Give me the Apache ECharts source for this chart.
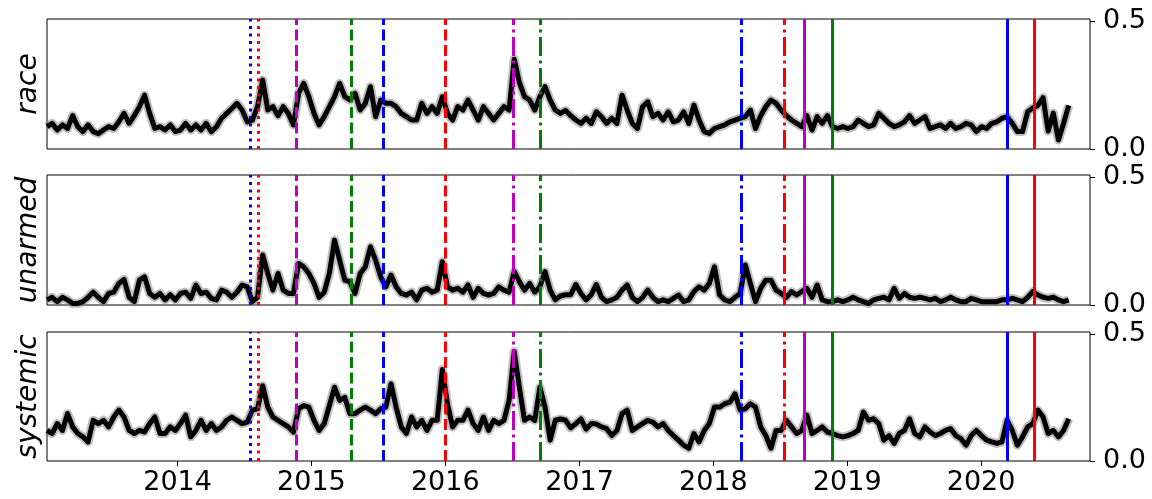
<!DOCTYPE html>
<html><head><meta charset="utf-8">
<script src="https://cdn.jsdelivr.net/npm/echarts@6/dist/echarts.min.js"></script>
<style>html,body{margin:0;padding:0;background:#fff}#c{width:1152px;height:499px}</style>
</head><body><div id="c"></div>
<script>
// ---- data ----
const START = '2013-01-10';   // first sample / left edge of x axis
const END = '2020-10-24';     // right edge of x axis
const STEP_DAYS = 14;         // spacing between samples
const panelNames = ['race', 'unarmed', 'systemic'];
const yTicks = [0, 0.5];

const race = [
.087,.10,.074,.094,.08,.13,.087,.068,.094,.068,
.06,.074,.087,.08,.106,.139,.10,.13,.165,.21,
.139,.08,.087,.074,.094,.068,.074,.10,.074,.094,
.074,.10,.068,.087,.12,.139,.158,.178,.152,.106,
.113,.165,.269,.152,.165,.13,.165,.139,.094,.217,
.256,.204,.139,.094,.126,.165,.204,.256,.204,.191,
.217,.152,.178,.243,.126,.191,.178,.178,.165,.139,
.126,.113,.113,.178,.139,.165,.139,.204,.139,.113,
.165,.152,.191,.152,.113,.165,.139,.113,.139,.165,
.152,.35,.26,.204,.191,.152,.204,.243,.191,.152,
.139,.15,.13,.113,.10,.12,.10,.145,.126,.10,
.12,.10,.21,.152,.10,.08,.165,.184,.126,.139,
.113,.145,.106,.113,.145,.10,.171,.113,.068,.061,
.08,.087,.094,.106,.113,.12,.126,.152,.08,.13,
.165,.191,.178,.152,.13,.113,.10,.087,.13,.074,
.126,.10,.13,.087,.08,.087,.08,.087,.113,.10,
.087,.094,.139,.12,.10,.087,.094,.106,.13,.10,
.113,.126,.08,.087,.094,.08,.10,.08,.087,.10,
.094,.068,.087,.08,.10,.106,.12,.126,.10,.068,
.068,.145,.16,.17,.20,.07,.14,.035,.10,.17
];
const unarmed = [
.02,.03,.013,.03,.02,.006,.006,.013,.03,.05,
.03,.013,.045,.05,.084,.10,.03,.013,.097,.11,
.045,.03,.045,.02,.04,.02,.045,.05,.026,.078,
.045,.05,.026,.02,.058,.05,.03,.05,.078,.071,
.013,.03,.195,.123,.058,.123,.058,.045,.045,.162,
.149,.123,.084,.03,.05,.123,.253,.175,.097,.091,
.045,.123,.149,.227,.175,.11,.071,.117,.071,.045,
.039,.05,.02,.058,.065,.05,.058,.169,.071,.058,
.065,.05,.078,.03,.065,.045,.039,.045,.071,.058,
.05,.13,.091,.058,.084,.05,.071,.13,.058,.02,
.035,.04,.04,.08,.045,.02,.04,.08,.03,.013,
.02,.03,.058,.078,.03,.013,.03,.058,.03,.013,
.02,.013,.026,.039,.013,.02,.052,.071,.058,.084,
.149,.039,.02,.013,.03,.045,.156,.084,.013,.065,
.097,.097,.058,.045,.03,.052,.039,.052,.065,.03,
.078,.02,.013,.013,.02,.013,.02,.03,.02,.013,
.006,.02,.026,.03,.02,.065,.026,.045,.03,.026,
.03,.026,.02,.026,.013,.02,.03,.02,.013,.013,
.026,.02,.013,.013,.013,.013,.02,.02,.026,.02,
.013,.03,.052,.039,.03,.026,.03,.02,.013,.02
];
const systemic = [
.12,.108,.147,.12,.186,.134,.108,.095,.075,.16,
.147,.16,.134,.173,.20,.173,.12,.108,.12,.114,
.147,.173,.108,.108,.134,.12,.147,.18,.095,.12,
.16,.12,.147,.12,.134,.16,.173,.16,.147,.153,
.20,.205,.296,.212,.173,.16,.147,.134,.114,.205,
.218,.212,.16,.12,.147,.218,.29,.238,.25,.186,
.186,.20,.212,.20,.186,.205,.212,.303,.212,.134,
.108,.173,.134,.16,.12,.16,.16,.36,.225,.134,
.16,.16,.20,.147,.12,.173,.12,.16,.147,.16,
.238,.43,.29,.16,.173,.16,.29,.212,.082,.16,
.165,.16,.13,.147,.165,.125,.147,.145,.134,.127,
.10,.12,.186,.20,.12,.134,.147,.16,.153,.134,
.147,.12,.10,.082,.062,.05,.108,.075,.12,.147,
.212,.212,.225,.231,.264,.20,.205,.225,.212,.134,
.10,.05,.12,.12,.16,.134,.108,.12,.18,.108,
.12,.134,.114,.108,.10,.095,.10,.108,.12,.192,
.16,.166,.147,.082,.10,.069,.108,.12,.166,.108,
.095,.134,.114,.10,.108,.12,.127,.10,.088,.062,
.10,.12,.10,.082,.075,.069,.075,.16,.12,.062,
.095,.134,.147,.20,.173,.108,.12,.095,.12,.166
];
const eventDates  = ['2014-07-17','2014-08-09','2014-11-22','2015-04-19','2015-07-16','2015-12-31','2016-07-05','2016-09-16','2018-03-18','2018-07-14','2018-09-06','2018-11-22','2020-03-13','2020-05-25'];
const eventColors = ['blue','red','magenta','green','blue','red','magenta','green','blue','red','magenta','green','blue','red'];
const eventStyles = ['dotted','dotted','dashed','dashed','dashed','dashed','dashdot','dashdot','dashdot','dashdot','solid','solid','solid','solid'];

// ---- styling ----
const FONT = 'DejaVu Sans';
const colorMap = {blue:'#0000ff', red:'#ff0000', magenta:'#bf00bf', green:'#008000'};
const dashMap = {dotted:[3,4.5], dashed:[11,4.5], dashdot:[19,4.5,3,4.5], solid:'solid'};
const seriesList = [race, unarmed, systemic];

function iso(ms){ return new Date(ms).toISOString().slice(0,10); }
const t0 = Date.parse(START + 'T00:00:00Z'), t1 = Date.parse(END + 'T00:00:00Z');
const days = [];
for (let t = t0; t <= t1; t += 86400000) days.push(iso(t));
const isYearStart = (idx, v) => typeof v === 'string' && v.slice(5) === '01-01';

const tops = [19, 175, 332];
const heights = [130, 130, 129];

const grid = [], xAxis = [], yAxis = [], series = [];
for (let p = 0; p < 3; p++) {
  grid.push({left: 47, right: 62, top: tops[p], height: heights[p], show: true,
             borderColor: '#000', borderWidth: 1, backgroundColor: 'transparent', containLabel: false});
  const last = p === 2;
  xAxis.push({type: 'category', gridIndex: p, data: days, boundaryGap: false,
    axisLine: {show: false},
    axisTick: {show: last, interval: isYearStart, length: 5, lineStyle: {color: '#000', width: 1}},
    axisLabel: {show: last, interval: isYearStart, formatter: v => v.slice(0,4),
                fontSize: 27, color: '#000', fontFamily: FONT, margin: 8},
    splitLine: {show: false}});
  yAxis.push({type: 'value', gridIndex: p, position: 'right', min: yTicks[0], max: 0.507, interval: yTicks[1] - yTicks[0],
    axisLine: {show: false},
    axisTick: {show: true, length: 5, lineStyle: {color: '#000', width: 1}},
    axisLabel: {fontSize: 27, color: '#000', fontFamily: FONT, margin: 13, showMaxLabel: false,
                formatter: v => Number(v).toFixed(1)},
    splitLine: {show: false}});
}
for (let p = 0; p < 3; p++) {
  yAxis.push({type: 'value', gridIndex: p, position: 'left', min: 0, max: 1,
    axisLine: {show: false}, axisTick: {show: false}, axisLabel: {show: false}, splitLine: {show: false},
    name: panelNames[p], nameLocation: 'middle', nameGap: 4, nameRotate: 90,
    nameTextStyle: {fontSize: 28, fontStyle: 'italic', color: '#000', fontFamily: FONT}});
}
for (let p = 0; p < 3; p++) {
  const vals = seriesList[p];
  const data = vals.map((v, i) => [iso(t0 + i * STEP_DAYS * 86400000), v]);
  series.push({type: 'line', xAxisIndex: p, yAxisIndex: p, data: data, symbol: 'none', silent: true,
    z: 1, lineStyle: {color: 'rgba(128,128,128,0.5)', width: 9, join: 'round'}});
  series.push({type: 'line', xAxisIndex: p, yAxisIndex: p, data: data, symbol: 'none', silent: true,
    z: 2, lineStyle: {color: '#000', width: 5, join: 'round'},
    markLine: {silent: true, symbol: ['none','none'], label: {show: false}, animation: false,
      data: eventDates.map((d, k) => ({xAxis: d,
        lineStyle: {color: colorMap[eventColors[k]], width: 3, type: dashMap[eventStyles[k]], cap: 'butt'}}))}});
}

const chart = echarts.init(document.getElementById('c'), null, {renderer: 'canvas'});
chart.setOption({animation: false, backgroundColor: '#fff', grid, xAxis, yAxis, series});
</script></body></html>
